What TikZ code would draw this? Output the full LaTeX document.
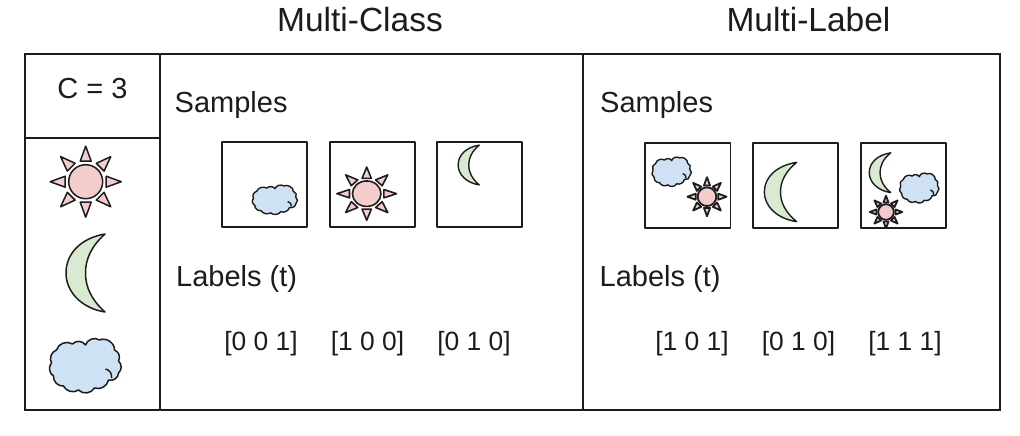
\documentclass[tikz,border=0pt]{standalone}
\usepackage{fontspec}
\setmainfont{Liberation Sans}
\definecolor{sunfill}{HTML}{F4CCCC}
\definecolor{moonfill}{HTML}{D9EAD3}
\definecolor{cloudfill}{HTML}{CFE2F3}
\definecolor{ink}{HTML}{1C1C1C}
\tikzset{
  frame/.style={draw=ink,line width=1.8pt},
  samplebox/.style={draw=ink,line width=1.5pt,line join=round},
  title/.style={font=\fontsize{33.5}{36}\selectfont,text=ink,inner sep=0pt,anchor=base},
  heading/.style={font=\fontsize{29}{32}\selectfont,text=ink,inner sep=0pt,anchor=base west},
  vec/.style={font=\fontsize{26.4}{30}\selectfont,text=ink,inner sep=0pt,anchor=base},
  icon/.style={draw=ink,line width=#1,line join=round},
  icon/.default=1.5pt,
  pics/sunicon/.style={code={
    \foreach \a in {0,45,...,315}{
      \path[icon=#1,fill=sunfill,rotate=\a] (20.5,-5.5) -- (35.5,0) -- (20.5,5.5) -- cycle;
    }
    \path[icon=#1,fill=sunfill] (0,0) circle (17);
  }},
  pics/moonicon/.style={code={
    \path[icon=#1,fill=moonfill] (19.5,-39) .. controls (-4,-35) and (-19.5,-20) .. (-19.5,0)
      .. controls (-19.5,18) and (-5,35) .. (19.5,39)
      .. controls (6,27) and (0,14) .. (0,0)
      .. controls (0,-14) and (6,-27) .. (19.5,-39) -- cycle;
  }},
  pics/cloudicon/.style={code={
    \path[icon=#1,fill=cloudfill] (-29,-18) to[bend left=55] (-13,-24) to[bend left=55] (0,-23)
      to[bend left=55] (14,-28) to[bend left=60] (29,-18) to[bend left=50] (33,-7)
      to[bend left=50] (33,5) to[bend left=55] (23,12) to[bend left=50] (9,20)
      to[bend left=55] (-7,22) to[bend left=50] (-22,18) to[bend left=50] (-32,8)
      to[bend left=50] (-34,-5) to[bend left=50] (-29,-18) -- cycle;
    \draw[icon=#1] (20,1) to[bend left=45] (26,10);
  }},
}
\begin{document}
\begin{tikzpicture}[x=1pt,y=-1pt]
\useasboundingbox (0,0) rectangle (1020,436);
\path[fill=white] (0,0) rectangle (1020,436);
% table
\draw[frame] (25,54) rectangle (1000,410);
\draw[frame] (160,54) -- (160,410);
\draw[frame] (583,54) -- (583,410);
\draw[frame] (25,138) -- (160,138);
% titles
\node[title] (mc) at (360,32) {Multi-Class};
\node[title] (ml) at (808.5,32) {Multi-Label};
\node[heading,anchor=base] (c) at (92.5,98) {C = 3};
\node[heading] (s1) at (174.5,112) {Samples};
\node[heading] (s2) at (600,112.5) {Samples};
\node[heading] (l1) at (176,286.5) {Labels (t)};
\node[heading] (l2) at (599.5,286.5) {Labels (t)};
\node[vec] (v1) at (261,350) {[0 0 1]};
\node[vec] (v2) at (367.5,350) {[1 0 0]};
\node[vec] (v3) at (474,350) {[0 1 0]};
\node[vec] (v4) at (692,350) {[1 0 1]};
\node[vec] (v5) at (798.5,350) {[0 1 0]};
\node[vec] (v6) at (905,350) {[1 1 1]};
% legend
\pic at (85.7,181.7) {sunicon=1.5pt};
\pic at (85.5,273) {moonicon=1.5pt};
\pic at (85.5,368) {cloudicon=1.5pt};
% multi-class samples
\draw[samplebox] (222,142) rectangle (307,227);
\draw[samplebox] (330,142) rectangle (415,227);
\draw[samplebox] (437,142) rectangle (522,227);
\pic[xscale=.63,yscale=.54] at (275,201) {cloudicon=1.4pt};
\pic[xscale=.84,yscale=.75] at (366.7,193.7) {sunicon=1.6pt};
\pic[xscale=.54,yscale=.51] at (468.7,165) {moonicon=1.4pt};
% multi-label samples
\draw[samplebox] (645,143) rectangle (730.5,228);
\draw[samplebox] (753,143) rectangle (838,228);
\draw[samplebox] (861,143) rectangle (946,228);
\pic[xscale=.55,yscale=.54] at (671.7,173) {cloudicon=1.4pt};
\pic[scale=.55] at (707,196.7) {sunicon=1.8pt};
\pic[xscale=.83,yscale=.76] at (780.5,192) {moonicon=1.4pt};
\pic[xscale=.55,yscale=.51] at (880,172.7) {moonicon=1.4pt};
\pic[scale=.55] at (919.3,189.3) {cloudicon=1.4pt};
\pic[scale=.46] at (886,212) {sunicon=1.8pt};
\end{tikzpicture}
\end{document}
